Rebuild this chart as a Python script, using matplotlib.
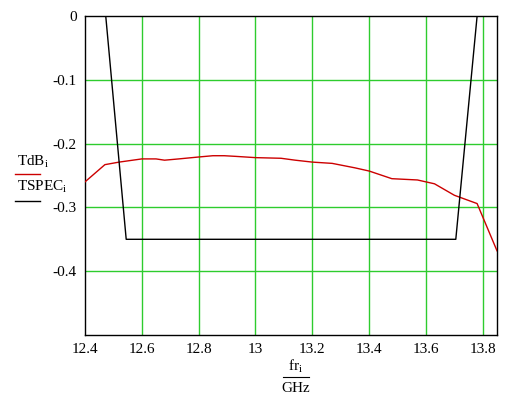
import numpy as np
import matplotlib
matplotlib.use("Agg")
import matplotlib.pyplot as plt
from matplotlib.lines import Line2D

plt.rcParams['font.family'] = ['Liberation Serif', 'DejaVu Serif']
plt.rcParams['mathtext.fontset'] = 'custom'
plt.rcParams['mathtext.rm'] = 'Liberation Serif'
plt.rcParams['mathtext.it'] = 'Liberation Serif'

# measured response
fr = [12.40, 12.47, 12.52, 12.60, 12.65, 12.68, 12.73, 12.80, 12.85, 12.89,
      12.93, 13.00, 13.09, 13.14, 13.20, 13.27, 13.35, 13.40, 13.48, 13.57,
      13.63, 13.70, 13.78, 13.85]
TdB = [-0.260, -0.233, -0.229, -0.224, -0.224, -0.226, -0.224, -0.221, -0.219, -0.219,
       -0.220, -0.222, -0.223, -0.226, -0.229, -0.231, -0.238, -0.243, -0.255, -0.257,
       -0.263, -0.281, -0.294, -0.368]

# spec mask
fspec = [12.473, 12.545, 13.705, 13.780]
TSPEC = [0.0, -0.35, -0.35, 0.0]

xticks = [12.4, 12.6, 12.8, 13.0, 13.2, 13.4, 13.6, 13.8]
xticklabels = ["12.4", "12.6", "12.8", "13", "13.2", "13.4", "13.6", "13.8"]
yticks = [0, -0.1, -0.2, -0.3, -0.4]
yticklabels = ["0", "-0.1", "-0.2", "-0.3", "-0.4"]

fig = plt.figure(figsize=(5.3, 3.96), dpi=100)
ax = fig.add_axes([85/530, 61/396, 412/530, 319/396])

grid = '#2ecc2e'
for x in xticks[1:]:
    ax.axvline(x, color=grid, lw=1, zorder=1)
for y in yticks[1:]:
    ax.axhline(y, color=grid, lw=1, zorder=1)

ax.plot(fr, TdB, color='#cc0000', lw=1, zorder=3)
ax.plot(fspec, TSPEC, color='black', lw=1, zorder=3)

ax.set_xlim(12.4, 13.85)
ax.set_ylim(-0.5, 0)
ax.set_xticks(xticks)
ax.set_xticklabels(xticklabels)
ax.set_yticks(yticks)
ax.set_yticklabels(yticklabels)
ax.tick_params(length=0, labelsize=11, pad=6)
for s in ax.spines.values():
    s.set_linewidth(1)
    s.set_color('black')

# left legend
fig.text(17/530, 1 - 162/396, r"TdB$_\mathrm{i}$", fontsize=11, va='center', ha='left')
fig.add_artist(Line2D([15/530, 40/530], [1 - 174/396] * 2, color='#cc0000', lw=1))
fig.text(17/530, 1 - 187/396, r"TSPEC$_\mathrm{i}$", fontsize=11, va='center', ha='left')
fig.add_artist(Line2D([15/530, 40/530], [1 - 201/396] * 2, color='black', lw=1))

# x label as fraction
fig.text(296/530, 1 - 366/396, r"fr$_\mathrm{i}$", fontsize=11, va='center', ha='center')
fig.add_artist(Line2D([283/530, 309/530], [1 - 377/396] * 2, color='black', lw=0.8))
fig.text(296/530, 1 - 388/396, "GHz", fontsize=11, va='center', ha='center')

fig.savefig("out.png", dpi=100)
